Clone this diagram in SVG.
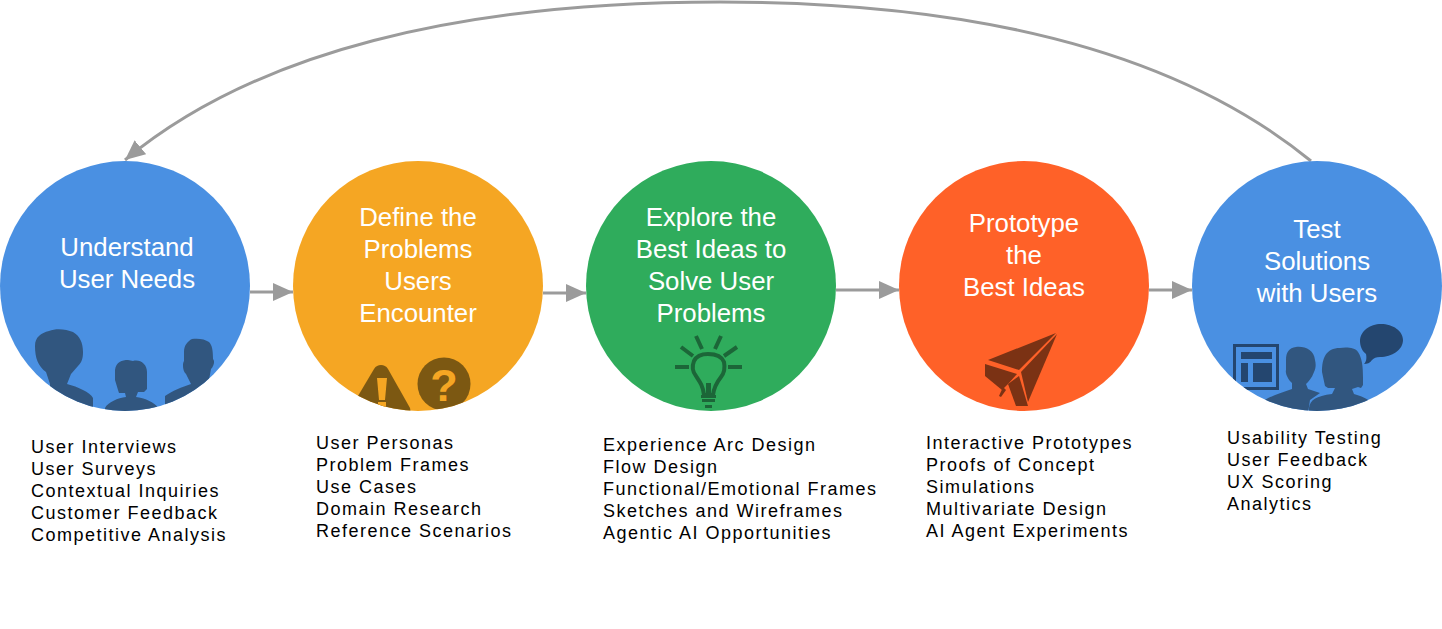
<svg xmlns="http://www.w3.org/2000/svg" width="1442" height="629" viewBox="0 0 1442 629">
<style>
.t{font-family:"Liberation Sans",Arial,sans-serif;font-size:25.800px;fill:#fff;text-anchor:middle}
.l{font-family:"Liberation Sans",Arial,sans-serif;font-size:18px;fill:#000;letter-spacing:1.5px}
.c{fill:none;stroke:#9b9b9b;stroke-width:3}
.ah{fill:#9b9b9b}
.sil{fill:#31567f}
.dk{fill:#24466f}
</style>
<defs>
<marker id="arr" markerUnits="userSpaceOnUse" markerWidth="22" markerHeight="20" refX="20" refY="10" orient="auto"><path class="ah" d="M0 1L20 10L0 19Z"/></marker>
<clipPath id="c1"><circle cx="125" cy="286" r="125"/></clipPath>
<clipPath id="c2"><circle cx="418" cy="286" r="125"/></clipPath>
<clipPath id="c4"><circle cx="1024" cy="286" r="125"/></clipPath>
<clipPath id="c5"><circle cx="1317" cy="286" r="125"/></clipPath>
</defs>
<g id="connectors">
<path class="c" marker-end="url(#arr)" d="M250 292H293"/>
<path class="c" marker-end="url(#arr)" d="M543 293H586"/>
<path class="c" marker-end="url(#arr)" d="M836 290H899"/>
<path class="c" marker-end="url(#arr)" d="M1149 290H1192"/>
<path class="c" marker-end="url(#arr)" d="M1311 161C1190 62 1000 2 720 2C460 2 255 52 125 160"/>
</g>
<g id="node-understand">
<circle cx="125" cy="286" r="125" fill="#4a90e2"/>
<g clip-path="url(#c1)" class="sil">
<path d="M35 346C35 337 41 333 49 331C56 328 66 329 73 332C80 336 83 343 83 352C83 358 82 362 78 366L71 374L67 384C78 387 90 392 93 398V420H50V384L46 372C38 366 35 358 35 346Z"/>
<path d="M115 380V370C116 362 122 360 128 360L133 361C140 359 147 364 147 372V389L144 392H138L136 397C144 398 155 402 158 408V420H105V408C108 402 118 398 126 397L125 393H119L118 390Z"/>
<path d="M184 352C184 345 188 341 192 339C198 338 205 339 209 342C212 345 213 350 213 359C215 361 214 366 211 369L209 380L205 384L200 392L204 420H165V396C172 391 182 387 191 384L186 374C183 372 182 364 184 361Z"/>
</g>
<text class="t"><tspan x="127" y="256">Understand</tspan><tspan x="127" y="288">User Needs</tspan></text>
<text class="l"><tspan x="31" y="453">User Interviews</tspan><tspan x="31" y="475">User Surveys</tspan><tspan x="31" y="497">Contextual Inquiries</tspan><tspan x="31" y="519">Customer Feedback</tspan><tspan x="31" y="541">Competitive Analysis</tspan></text>
</g>
<g id="node-define">
<circle cx="418" cy="286" r="125" fill="#f5a623"/>
<g clip-path="url(#c2)">
<path fill="#7c5812" d="M381 365C378 365 376 366 374 369L358 396L345 420H412L410 408L388 369C386 366 384 365 381 365Z"/>
<path fill="#f5a623" d="M377 378H387L385 400H379ZM378 402H386V411H378Z"/>
<circle cx="444" cy="384" r="26.500" fill="#7c5812"/>
</g>
<text x="444" y="401" font-family="Liberation Sans,Arial,sans-serif" font-size="45" font-weight="700" fill="#f5a623" text-anchor="middle">?</text>
<text class="t"><tspan x="418" y="226">Define the</tspan><tspan x="418" y="258">Problems</tspan><tspan x="418" y="290">Users</tspan><tspan x="418" y="322">Encounter</tspan></text>
<text class="l"><tspan x="316" y="449">User Personas</tspan><tspan x="316" y="471">Problem Frames</tspan><tspan x="316" y="493">Use Cases</tspan><tspan x="316" y="515">Domain Research</tspan><tspan x="316" y="537">Reference Scenarios</tspan></text>
</g>
<g id="node-explore">
<circle cx="711" cy="286" r="125" fill="#2fac5c"/>
<g fill="none" stroke="#1c6638" stroke-width="4">
<path d="M704 395C703 386 700 382 696 376C692 371 692 366 694 361C696 357 701 354 708 354C716 354 722 357 724 362C725 367 725 372 721 377C717 382 714 387 713 395Z"/>
<path d="M675 367H689M728 367H742M696 336L702 349M721 336L715 349M681 347L693 356M737 347L724 356"/>
</g>
<path fill="#1c6638" d="M706 383H711V395H716V398H701V395H706ZM702 399H715V402H702ZM705 405H712V408H705Z"/>
<text class="t"><tspan x="711" y="226">Explore the</tspan><tspan x="711" y="258">Best Ideas to</tspan><tspan x="711" y="290">Solve User</tspan><tspan x="711" y="322">Problems</tspan></text>
<text class="l"><tspan x="603" y="451">Experience Arc Design</tspan><tspan x="603" y="473">Flow Design</tspan><tspan x="603" y="495">Functional/Emotional Frames</tspan><tspan x="603" y="517">Sketches and Wireframes</tspan><tspan x="603" y="539">Agentic AI Opportunities</tspan></text>
</g>
<g id="node-prototype">
<circle cx="1024" cy="286" r="125" fill="#ff6128"/>
<g clip-path="url(#c4)" fill="#7b3214">
<path d="M988 360L1056 333L1019 370Z"/>
<path d="M985 364L1017 374L1008 384L1002 390L985 376Z"/>
<path d="M1057 334L1028 402L1021 372Z"/>
<path d="M1019 376L1028 406H1016L1008 384Z"/>
<path d="M1003 387L1006 390L1001 397L999 396Z"/>
</g>
<text class="t"><tspan x="1024" y="232">Prototype</tspan><tspan x="1024" y="264">the</tspan><tspan x="1024" y="296">Best Ideas</tspan></text>
<text class="l"><tspan x="926" y="449">Interactive Prototypes</tspan><tspan x="926" y="471">Proofs of Concept</tspan><tspan x="926" y="493">Simulations</tspan><tspan x="926" y="515">Multivariate Design</tspan><tspan x="926" y="537">AI Agent Experiments</tspan></text>
</g>
<g id="node-test">
<circle cx="1317" cy="286" r="125" fill="#4a90e2"/>
<g clip-path="url(#c5)">
<path class="dk" fill-rule="evenodd" d="M1233 344H1279V390H1233ZM1236 347V387H1276V347Z"/>
<path class="dk" d="M1241 352H1272V359H1241ZM1241 363H1248V382H1241ZM1253 363H1272V382H1253Z"/>
<path class="sil" d="M1286 360C1286 352 1289 348 1296 347C1305 346 1314 350 1315 360C1316 364 1316 368 1314 372C1312 378 1308 382 1306 384L1308 389L1320 393L1310 400L1307 420H1260V403C1268 397 1280 393 1292 389V383C1288 380 1285 373 1286 370Z"/>
<path class="sil" d="M1322 372C1322 358 1326 348 1340 348C1345 347 1355 347 1358 352C1362 358 1363 366 1363 378V385L1361 388L1358 387L1352 389L1354 394C1360 396 1367 398 1370 402V420H1309V408C1310 400 1316 396 1332 394L1335 388L1328 388L1325 386Z"/>
<path class="dk" d="M1381 324C1393 324 1403 331 1403 340C1403 350 1392 357 1380 357C1376 357 1374 358 1372 360C1370 363 1367 364 1364 364C1366 362 1367 359 1366 354C1362 351 1360 346 1360 341C1360 331 1370 324 1381 324Z"/>
</g>
<text class="t"><tspan x="1317" y="238">Test</tspan><tspan x="1317" y="270">Solutions</tspan><tspan x="1317" y="302">with Users</tspan></text>
<text class="l"><tspan x="1227" y="444">Usability Testing</tspan><tspan x="1227" y="466">User Feedback</tspan><tspan x="1227" y="488">UX Scoring</tspan><tspan x="1227" y="510">Analytics</tspan></text>
</g>
</svg>
